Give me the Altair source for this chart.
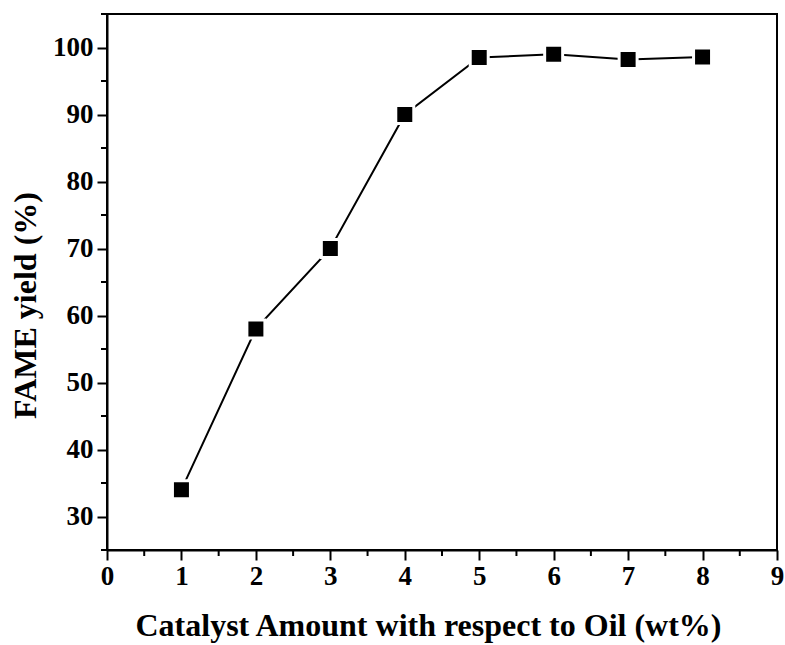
import altair as alt
import pandas as pd

catalyst_wt = [1, 2, 3, 4, 5, 6, 7, 8]
fame_yield = [34, 58, 70, 90, 98.5, 99, 98.2, 98.6]

x_minor = [0.5, 1.5, 2.5, 3.5, 4.5, 5.5, 6.5, 7.5, 8.5]
y_minor = [25, 35, 45, 55, 65, 75, 85, 95, 105]

df = pd.DataFrame({"wt": catalyst_wt, "yield": fame_yield})
FONT = "Liberation Serif"

x_scale = alt.Scale(domain=[0, 9], nice=False, zero=False)
y_scale = alt.Scale(domain=[25, 105], nice=False, zero=False)

x_axis = alt.Axis(
    values=list(range(0, 10)), format="d",
    title="Catalyst Amount with respect to Oil (wt%)",
    labelPadding=3, titlePadding=21, labelFlush=False, titleX=321,
)
y_axis = alt.Axis(
    values=list(range(30, 101, 10)), format="d", title="FAME yield (%)",
    labelPadding=4, titlePadding=10, titleY=291,
)

line = alt.Chart(df).mark_line(color="black", strokeWidth=2).encode(
    x=alt.X("wt:Q", scale=x_scale, axis=x_axis),
    y=alt.Y("yield:Q", scale=y_scale, axis=y_axis),
)

points = alt.Chart(df).mark_point(
    shape="square", filled=True, fill="black", stroke="white", strokeWidth=3,
    size=324, opacity=1,
).encode(x="wt:Q", y="yield:Q")

x_minor_ticks = alt.Chart(pd.DataFrame({"m": x_minor})).mark_rule(
    color="black", strokeWidth=2, clip=False
).encode(x=alt.X("m:Q"), y=alt.value(536), y2=alt.value(542))

y_minor_ticks = alt.Chart(pd.DataFrame({"m": y_minor})).mark_rule(
    color="black", strokeWidth=2, clip=False
).encode(y=alt.Y("m:Q"), x=alt.value(-6), x2=alt.value(0))

chart = alt.layer(line, points, x_minor_ticks, y_minor_ticks).properties(
    width=670, height=536,
    background="white",
    autosize=alt.AutoSizeParams(type="none"),
    padding={"left": 107, "top": 14, "right": 8, "bottom": 95},
).configure_view(
    stroke="black", strokeWidth=2
).configure_axis(
    grid=False, domainColor="black", domainWidth=2, tickColor="black", tickWidth=2,
    tickSize=10, labelFont=FONT, labelFontSize=27, labelFontWeight="bold",
    labelColor="black", titleFont=FONT, titleFontSize=32, titleFontWeight="bold",
    titleColor="black",
)

chart.save("out.html", embed_options={"renderer": "svg", "actions": False})
